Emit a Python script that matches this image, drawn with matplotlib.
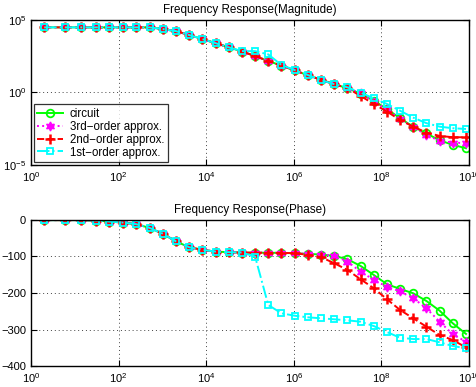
import numpy as np
import matplotlib
matplotlib.use("Agg")
import matplotlib.pyplot as plt
from matplotlib.ticker import LogLocator, NullLocator, LogFormatterMathtext

plt.rcParams['font.family'] = ['Liberation Sans', 'DejaVu Sans']
plt.rcParams['mathtext.default'] = 'regular'

# frequency points (Hz)
freq = [2, 6, 14, 30, 62, 126, 254, 510, 1022, 2046, 4094, 8190, 16382, 32766,
        65534, 131070, 262142, 524286, 1048574, 2097150, 4194302, 8388606,
        16777214, 33554430, 67108862, 134217726, 268435454, 536870910,
        1073741822, 2147483646, 4294967294, 8589934590]

mag_circuit = [3.16e4, 3.16e4, 3.16e4, 3.16e4, 3.16e4, 3.16e4, 3.16e4, 3.16e4,
               2.40e4, 1.74e4, 9.33e3, 4.90e3, 2.57e3, 1.32e3, 676, 331, 148,
               72.4, 33.9, 15.5, 7.59, 3.72, 2.0, 0.832, 0.269, 0.0724, 0.0166,
               4.27e-3, 1.48e-3, 5.0e-4, 2.4e-4, 1.41e-4]
mag_3rd = [3.16e4, 3.16e4, 3.16e4, 3.16e4, 3.16e4, 3.16e4, 3.16e4, 3.16e4,
           2.40e4, 1.74e4, 9.33e3, 4.90e3, 2.57e3, 1.32e3, 676, 331, 148,
           72.4, 33.9, 15.5, 7.59, 3.72, 2.1, 0.87, 0.234, 0.069, 0.0148,
           3.98e-3, 1.17e-3, 4.57e-4, 3.47e-4, 3.16e-4]
mag_2nd = [3.16e4, 3.16e4, 3.16e4, 3.16e4, 3.16e4, 3.16e4, 3.16e4, 3.16e4,
           2.40e4, 1.74e4, 9.33e3, 4.90e3, 2.57e3, 1.32e3, 676, 331, 148,
           72.4, 33.9, 15.5, 7.59, 3.72, 2.04, 0.575, 0.162, 0.0479, 0.0126,
           4.37e-3, 1.70e-3, 1.0e-3, 8.1e-4, 8.1e-4]
mag_1st = [3.16e4, 3.16e4, 3.16e4, 3.16e4, 3.16e4, 3.16e4, 3.16e4, 3.16e4,
           2.40e4, 1.74e4, 9.33e3, 4.90e3, 2.57e3, 1.32e3, 724, 724, 427,
           79.4, 35.5, 16.2, 7.24, 3.72, 2.29, 0.977, 0.398, 0.162, 0.055,
           0.0182, 7.6e-3, 4.37e-3, 3.39e-3, 3.02e-3]

ph_circuit = [-0.8, -0.8, -0.8, -2, -4.7, -7.4, -12, -22, -38, -59, -75, -82,
              -87, -88.5, -89.5, -90, -90, -90.5, -91.5, -93, -95, -98.6,
              -107.7, -126, -150.7, -176, -189, -201, -222, -248.5, -283, -312]
ph_3rd = [-0.8, -0.8, -0.8, -2, -4.7, -7.4, -12, -22, -38, -59, -75, -82,
          -87, -88.5, -89.5, -90, -90, -90.5, -91.5, -93, -95, -98.6,
          -114, -141.6, -164, -182.7, -196, -214.5, -242, -278.6, -313, -333.4]
ph_2nd = [-0.8, -0.8, -0.8, -2, -4.7, -7.4, -12, -22, -38, -59, -75, -82,
          -87, -88.5, -89.5, -90, -90, -90.5, -91, -96, -102, -118.6,
          -137, -162.5, -187, -217, -246.6, -269.3, -292.3, -315, -328.8, -348.8]
ph_1st = [-0.8, -0.8, -0.8, -2, -4.7, -7.4, -12, -22, -38, -59, -75, -82,
          -87, -88.5, -89.5, -100.5, -232.9, -255.6, -262.2, -266.6, -269.3,
          -272, -274.8, -278.6, -290.4, -306.8, -322.5, -326, -326, -335, -345, -351.5]

labels = ['circuit', '3rd\u2212order approx.', '2nd\u2212order approx.', '1st\u2212order approx.']

hexagram = (6, 1, 0)
styles = [
    dict(color='#00ff00', ls='-', lw=1.4, marker='o', ms=5.5, mfc='none', mew=1.3),
    dict(color='#ff00ff', ls=':', lw=1.4, marker=hexagram, ms=6.5, mfc='#ff00ff', mew=1.0),
    dict(color='#ff0000', ls='--', lw=1.4, marker='+', ms=6.5, mew=1.8),
    dict(color='#00ffff', ls='-.', lw=1.4, marker='s', ms=5, mfc='none', mew=1.3),
]

fig = plt.figure(figsize=(4.77, 3.87), dpi=100)
ax1 = fig.add_axes([0.065, 0.574, 0.918, 0.374])
ax2 = fig.add_axes([0.065, 0.054, 0.918, 0.378])

for ax in (ax1, ax2):
    ax.set_xscale('log')
    ax.set_xlim(1, 1e10)
    ax.xaxis.set_major_locator(LogLocator(base=100.0, numticks=20))
    ax.xaxis.set_major_formatter(LogFormatterMathtext())
    ax.xaxis.set_minor_locator(NullLocator())
    ax.tick_params(direction='in', top=True, right=True, labelsize=8, length=4, width=0.8)
    ax.grid(True, which='major', ls=(0, (1, 3)), color='#444444', lw=0.7)
    for s in ax.spines.values():
        s.set_linewidth(1.0)

for y, st, lab in zip([mag_circuit, mag_3rd, mag_2nd, mag_1st], styles, labels):
    ax1.plot(freq, y, label=lab, **st)
ax1.set_yscale('log')
ax1.set_ylim(1e-5, 1e5)
ax1.yaxis.set_major_locator(LogLocator(base=1e5, numticks=5))
ax1.yaxis.set_major_formatter(LogFormatterMathtext())
ax1.yaxis.set_minor_locator(NullLocator())
ax1.set_title('Frequency Response(Magnitude)', fontsize=8.4, pad=5)
leg = ax1.legend(loc='lower left', fontsize=8.3, frameon=True, fancybox=False,
                 edgecolor='black', borderaxespad=0.25, handlelength=2.2,
                 labelspacing=0.08, borderpad=0.3, handletextpad=0.6)
leg.get_frame().set_linewidth(0.9)

for y, st in zip([ph_circuit, ph_3rd, ph_2nd, ph_1st], styles):
    ax2.plot(freq, y, **st)
ax2.set_ylim(-400, 0)
ax2.set_yticks([0, -100, -200, -300, -400])
ax2.set_title('Frequency Response(Phase)', fontsize=8.4, pad=5)

fig.savefig('out.png', dpi=100)
